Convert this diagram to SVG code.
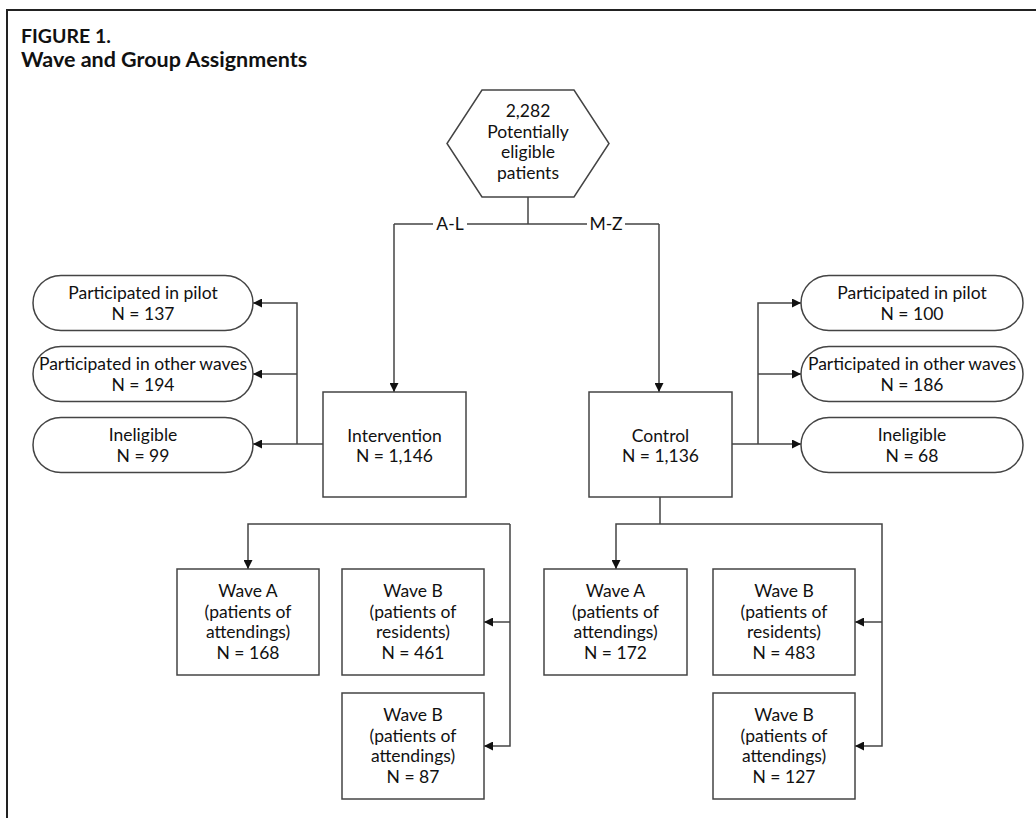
<svg xmlns="http://www.w3.org/2000/svg" width="1036" height="818" viewBox="0 0 1036 818">
<defs>
<marker id="arr" viewBox="0 0 10 10" refX="10" refY="5" markerWidth="9" markerHeight="9" markerUnits="userSpaceOnUse" orient="auto">
<path d="M0,0 L10,5 L0,10 z" fill="#111"/>
</marker>
</defs>
<style>
text{font-family:Lato,"Liberation Sans",sans-serif;font-size:17.5px;fill:#111;text-anchor:middle}
.title{text-anchor:start;font-weight:bold}
.box{fill:#fff;stroke:#444;stroke-width:1.5}
.con{fill:none;stroke:#444;stroke-width:1.5}
.arr{marker-end:url(#arr)}
.frame{fill:none;stroke:#222;stroke-width:2}
</style>
<rect width="1036" height="818" fill="#fff"/>
<path class="frame" d="M7,818 V10 H1036"/>
<text class="title" x="21" y="43" style="font-size:19.5px">FIGURE 1.</text>
<text class="title" x="21" y="67" style="font-size:21.5px">Wave and Group Assignments</text>

<g id="connectors">
<path class="con" d="M528,197 V224"/>
<path class="con" d="M394,224 H433 M467,224 H587 M625,224 H659"/>
<text x="450" y="230">A-L</text>
<text x="606" y="230">M-Z</text>
<path class="con arr" d="M394,224 V392"/>
<path class="con arr" d="M659,224 V392"/>
<path class="con arr" d="M323,444 H253"/>
<path class="con arr" d="M297,444 V303 H253"/>
<path class="con arr" d="M297,374 H253"/>
<path class="con arr" d="M732,444 H801"/>
<path class="con arr" d="M758,444 V303 H801"/>
<path class="con arr" d="M758,374 H801"/>
<path class="con arr" d="M510,524 H248 V569"/>
<path class="con arr" d="M510,524 V746 H484"/>
<path class="con arr" d="M510,622 H484"/>
<path class="con" d="M660,497 V524"/>
<path class="con arr" d="M660,524 H616 V569"/>
<path class="con arr" d="M660,524 H882 V746 H855"/>
<path class="con arr" d="M882,622 H855"/>
</g>

<g id="eligible">
<polygon class="box" points="482,90 574,90 609,143.5 574,197 482,197 447,143.5"/>
<text x="528" y="117">2,282</text>
<text x="528" y="137.5">Potentially</text>
<text x="528" y="158">eligible</text>
<text x="528" y="178.5">patients</text>
</g>

<g id="intervention">
<rect class="box" x="323" y="392" width="143" height="105"/>
<text x="394.5" y="442">Intervention</text>
<text x="394.5" y="462">N = 1,146</text>
</g>
<g id="control">
<rect class="box" x="589" y="392" width="143" height="105"/>
<text x="660.5" y="442">Control</text>
<text x="660.5" y="462">N = 1,136</text>
</g>

<g id="int-pilot">
<rect class="box" x="33" y="275.5" width="220" height="55" rx="28" ry="27.5"/>
<text x="143" y="299">Participated in pilot</text>
<text x="143" y="320">N = 137</text>
</g>
<g id="int-other">
<rect class="box" x="33" y="346.5" width="220" height="55" rx="28" ry="27.5"/>
<text x="143" y="370">Participated in other waves</text>
<text x="143" y="391">N = 194</text>
</g>
<g id="int-inelig">
<rect class="box" x="33" y="417.5" width="220" height="55" rx="28" ry="27.5"/>
<text x="143" y="441">Ineligible</text>
<text x="143" y="462">N = 99</text>
</g>

<g id="con-pilot">
<rect class="box" x="801" y="275.5" width="222" height="55" rx="28" ry="27.5"/>
<text x="912" y="299">Participated in pilot</text>
<text x="912" y="320">N = 100</text>
</g>
<g id="con-other">
<rect class="box" x="801" y="346.5" width="222" height="55" rx="28" ry="27.5"/>
<text x="912" y="370">Participated in other waves</text>
<text x="912" y="391">N = 186</text>
</g>
<g id="con-inelig">
<rect class="box" x="801" y="417.5" width="222" height="55" rx="28" ry="27.5"/>
<text x="912" y="441">Ineligible</text>
<text x="912" y="462">N = 68</text>
</g>

<g id="int-waveA">
<rect class="box" x="177" y="569" width="142" height="106"/>
<text x="248" y="597">Wave A</text>
<text x="248" y="617.5">(patients of</text>
<text x="248" y="638">attendings)</text>
<text x="248" y="658.5">N = 168</text>
</g>
<g id="int-waveB-res">
<rect class="box" x="342" y="569" width="142" height="106"/>
<text x="413" y="597">Wave B</text>
<text x="413" y="617.5">(patients of</text>
<text x="413" y="638">residents)</text>
<text x="413" y="658.5">N = 461</text>
</g>
<g id="int-waveB-att">
<rect class="box" x="342" y="693" width="142" height="106"/>
<text x="413" y="721">Wave B</text>
<text x="413" y="741.5">(patients of</text>
<text x="413" y="762">attendings)</text>
<text x="413" y="782.5">N = 87</text>
</g>

<g id="con-waveA">
<rect class="box" x="544" y="569" width="143" height="106"/>
<text x="615.5" y="597">Wave A</text>
<text x="615.5" y="617.5">(patients of</text>
<text x="615.5" y="638">attendings)</text>
<text x="615.5" y="658.5">N = 172</text>
</g>
<g id="con-waveB-res">
<rect class="box" x="713" y="569" width="142" height="106"/>
<text x="784" y="597">Wave B</text>
<text x="784" y="617.5">(patients of</text>
<text x="784" y="638">residents)</text>
<text x="784" y="658.5">N = 483</text>
</g>
<g id="con-waveB-att">
<rect class="box" x="713" y="693" width="142" height="106"/>
<text x="784" y="721">Wave B</text>
<text x="784" y="741.5">(patients of</text>
<text x="784" y="762">attendings)</text>
<text x="784" y="782.5">N = 127</text>
</g>
</svg>
